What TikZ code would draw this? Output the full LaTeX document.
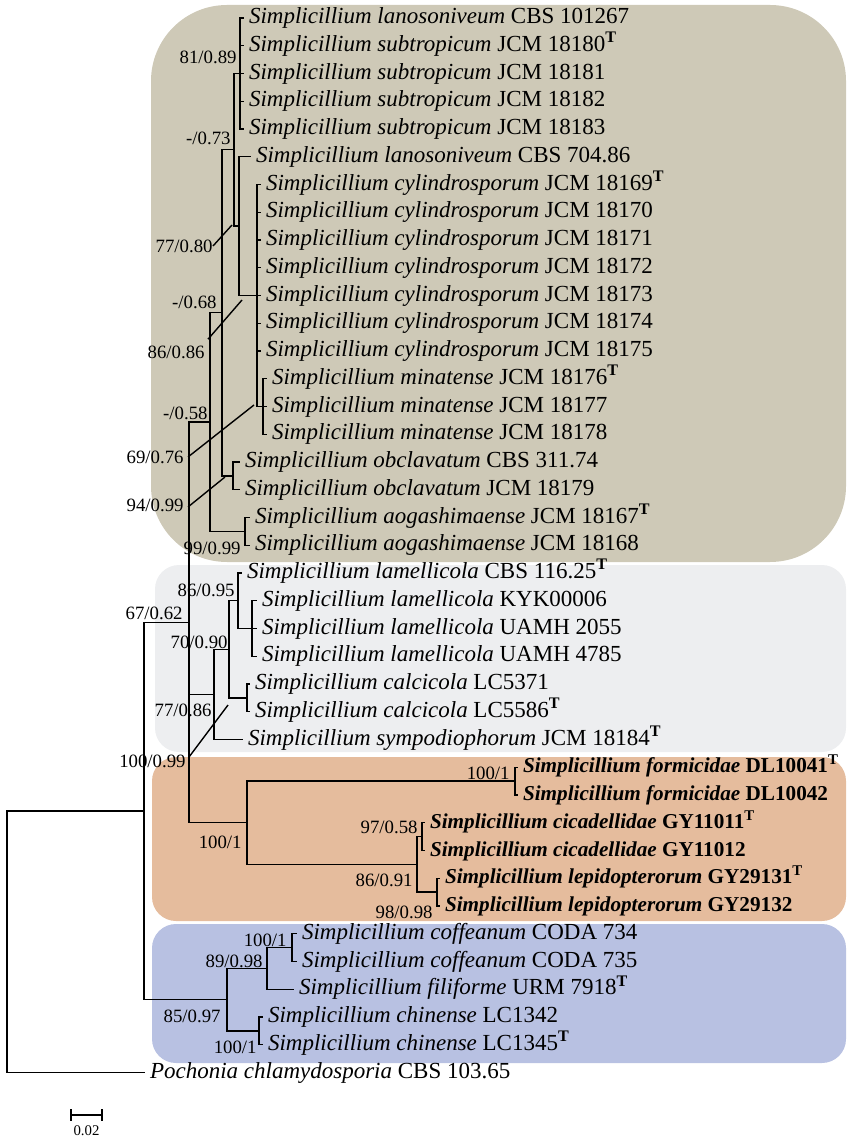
\documentclass[tikz,border=0pt]{standalone}
\usepackage{fontspec}
\setmainfont{Liberation Serif}
\usepackage{tikz}
\usetikzlibrary{positioning}
\usepackage{xcolor}
\definecolor{cladetan}{RGB}{206,201,183}
\definecolor{cladegrey}{RGB}{237,238,240}
\definecolor{cladeorange}{RGB}{229,188,157}
\definecolor{cladeblue}{RGB}{184,193,226}
\newcommand{\sname}[1]{\textit{Simplicillium #1}}
\newcommand{\bname}[1]{\textbf{\textit{Simplicillium #1}}}
\newcommand{\typeT}{\textsuperscript{\textbf{T}}}

\begin{document}
\begin{tikzpicture}[x=0.5pt, y=-0.5pt,
        taxon/.style={anchor=base west, inner sep=0pt, xshift=2.3pt, yshift=-2.8pt,
                      font=\fontsize{11.5}{13}\selectfont},
        newtaxon/.style={taxon, font=\fontsize{10.6}{13}\selectfont\bfseries},
        supp/.style={anchor=east, inner sep=0pt, font=\fontsize{9.4}{11}\selectfont},
        branch/.style={line width=0.7pt, black},
        pointer/.style={line width=0.7pt, black}
    ]
        \useasboundingbox (0,0) rectangle (846,1138);

        \fill[cladetan, rounded corners=38pt] (151,5) rectangle (846,562);
        \fill[cladegrey, rounded corners=12pt] (155,565) rectangle (846,752);
        \fill[cladeorange, rounded corners=12pt] (152,757) rectangle (846,921);
        \fill[cladeblue, rounded corners=12pt] (152,924) rectangle (846,1063);

        \coordinate (e1) at (244,18);      \node[taxon] (t1) at (e1) {\sname{lanosoniveum} CBS 101267};
        \coordinate (e2) at (244,45.75);   \node[taxon] (t2) at (e2) {\sname{subtropicum} JCM 18180\typeT};
        \coordinate (e3) at (244,73.5);    \node[taxon] (t3) at (e3) {\sname{subtropicum} JCM 18181};
        \coordinate (e4) at (244,101.25);  \node[taxon] (t4) at (e4) {\sname{subtropicum} JCM 18182};
        \coordinate (e5) at (244,129);     \node[taxon] (t5) at (e5) {\sname{subtropicum} JCM 18183};
        \coordinate (e6) at (251,156.75);  \node[taxon] (t6) at (e6) {\sname{lanosoniveum} CBS 704.86};
        \coordinate (e7) at (261,184.5);   \node[taxon] (t7) at (e7) {\sname{cylindrosporum} JCM 18169\typeT};
        \coordinate (e8) at (261,212.25);  \node[taxon] (t8) at (e8) {\sname{cylindrosporum} JCM 18170};
        \coordinate (e9) at (261,240);     \node[taxon] (t9) at (e9) {\sname{cylindrosporum} JCM 18171};
        \coordinate (e10) at (261,267.75); \node[taxon] (t10) at (e10) {\sname{cylindrosporum} JCM 18172};
        \coordinate (e11) at (261,295.5);  \node[taxon] (t11) at (e11) {\sname{cylindrosporum} JCM 18173};
        \coordinate (e12) at (261,323.25); \node[taxon] (t12) at (e12) {\sname{cylindrosporum} JCM 18174};
        \coordinate (e13) at (261,351);    \node[taxon] (t13) at (e13) {\sname{cylindrosporum} JCM 18175};
        \coordinate (e14) at (267,378.75); \node[taxon] (t14) at (e14) {\sname{minatense} JCM 18176\typeT};
        \coordinate (e15) at (267,406.5);  \node[taxon] (t15) at (e15) {\sname{minatense} JCM 18177};
        \coordinate (e16) at (267,434.25); \node[taxon] (t16) at (e16) {\sname{minatense} JCM 18178};
        \coordinate (e17) at (240,462);    \node[taxon] (t17) at (e17) {\sname{obclavatum} CBS 311.74};
        \coordinate (e18) at (240,489.75); \node[taxon] (t18) at (e18) {\sname{obclavatum} JCM 18179};
        \coordinate (e19) at (250,517.5);  \node[taxon] (t19) at (e19) {\sname{aogashimaense} JCM 18167\typeT};
        \coordinate (e20) at (250,545.25); \node[taxon] (t20) at (e20) {\sname{aogashimaense} JCM 18168};
        \coordinate (e21) at (242,573);    \node[taxon] (t21) at (e21) {\sname{lamellicola} CBS 116.25\typeT};
        \coordinate (e22) at (257,600.75); \node[taxon] (t22) at (e22) {\sname{lamellicola} KYK00006};
        \coordinate (e23) at (257,628.5);  \node[taxon] (t23) at (e23) {\sname{lamellicola} UAMH 2055};
        \coordinate (e24) at (257,656.25); \node[taxon] (t24) at (e24) {\sname{lamellicola} UAMH 4785};
        \coordinate (e25) at (250,684);    \node[taxon] (t25) at (e25) {\sname{calcicola} LC5371};
        \coordinate (e26) at (250,711.75); \node[taxon] (t26) at (e26) {\sname{calcicola} LC5586\typeT};
        \coordinate (e27) at (243,739.5);  \node[taxon] (t27) at (e27) {\sname{sympodiophorum} JCM 18184\typeT};
        \coordinate (e28) at (518,767.25); \node[newtaxon] (t28) at (e28) {\bname{formicidae} DL10041\typeT};
        \coordinate (e29) at (518,795);    \node[newtaxon] (t29) at (e29) {\bname{formicidae} DL10042};
        \coordinate (e30) at (425,822.75); \node[newtaxon] (t30) at (e30) {\bname{cicadellidae} GY11011\typeT};
        \coordinate (e31) at (425,850.5);  \node[newtaxon] (t31) at (e31) {\bname{cicadellidae} GY11012};
        \coordinate (e32) at (440,878.25); \node[newtaxon] (t32) at (e32) {\bname{lepidopterorum} GY29131\typeT};
        \coordinate (e33) at (440,906);    \node[newtaxon] (t33) at (e33) {\bname{lepidopterorum} GY29132};
        \coordinate (e34) at (297,933.75); \node[taxon] (t34) at (e34) {\sname{coffeanum} CODA 734};
        \coordinate (e35) at (297,961.5);  \node[taxon] (t35) at (e35) {\sname{coffeanum} CODA 735};
        \coordinate (e36) at (294,989.25); \node[taxon] (t36) at (e36) {\sname{filiforme} URM 7918\typeT};
        \coordinate (e37) at (263,1017);   \node[taxon] (t37) at (e37) {\sname{chinense} LC1342};
        \coordinate (e38) at (263,1044.75);\node[taxon] (t38) at (e38) {\sname{chinense} LC1345\typeT};
        \coordinate (e39) at (145,1072.5); \node[taxon] (t39) at (e39) {\textit{Pochonia chlamydosporia} CBS 103.65};

        \coordinate (nA) at (240,73.5);
        \coordinate (nE) at (263,406.5);
        \coordinate (nD) at (257,295.5);
        \coordinate (nC) at (239,226.1);
        \coordinate (nB) at (234,149.8);
        \coordinate (nF) at (233,475.9);
        \coordinate (nG) at (222,312.8);
        \coordinate (nH) at (245,531.4);
        \coordinate (nI) at (210,422.1);
        \coordinate (nJ) at (252,628.5);
        \coordinate (nK) at (238,600.75);
        \coordinate (nL) at (247,697.9);
        \coordinate (nM) at (229,649.3);
        \coordinate (nN) at (214,694.4);
        \coordinate (nO) at (515,781.1);
        \coordinate (nP) at (422,836.6);
        \coordinate (nQ) at (437,892.1);
        \coordinate (nR) at (417,864.4);
        \coordinate (nS) at (247,822.7);
        \coordinate (nT) at (189,622.4);
        \coordinate (nU) at (292,947.6);
        \coordinate (nV) at (267,968.4);
        \coordinate (nW) at (259,1030.9);
        \coordinate (nX) at (227,999.6);
        \coordinate (nY) at (144,811);
        \coordinate (root) at (7,941.8);

        \draw[branch] (nA) |- (e1) (nA) |- (e2) (nA) |- (e3) (nA) |- (e4) (nA) |- (e5);
        \draw[branch] (nE) |- (e14) (nE) |- (e15) (nE) |- (e16);
        \draw[branch] (nD) |- (e7) (nD) |- (e8) (nD) |- (e9) (nD) |- (e10)
                      (nD) |- (e11) (nD) |- (e12) (nD) |- (e13) (nD) |- (nE);
        \draw[branch] (nC) |- (e6) (nC) |- (nD);
        \draw[branch] (nB) |- (nA) (nB) |- (nC);
        \draw[branch] (nF) |- (e17) (nF) |- (e18);
        \draw[branch] (nG) |- (nB) (nG) |- (nF);
        \draw[branch] (nH) |- (e19) (nH) |- (e20);
        \draw[branch] (nI) |- (nG) (nI) |- (nH);
        \draw[branch] (nJ) |- (e22) (nJ) |- (e23) (nJ) |- (e24);
        \draw[branch] (nK) |- (e21) (nK) |- (nJ);
        \draw[branch] (nL) |- (e25) (nL) |- (e26);
        \draw[branch] (nM) |- (nK) (nM) |- (nL);
        \draw[branch] (nN) |- (nM) (nN) |- (e27);
        \draw[branch] (nO) |- (e28) (nO) |- (e29);
        \draw[branch] (nP) |- (e30) (nP) |- (e31);
        \draw[branch] (nQ) |- (e32) (nQ) |- (e33);
        \draw[branch] (nR) |- (nP) (nR) |- (nQ);
        \draw[branch] (nS) |- (nO) (nS) |- (nR);
        \draw[branch] (nT) |- (nI) (nT) |- (nN) (nT) |- (nS);
        \draw[branch] (nU) |- (e34) (nU) |- (e35);
        \draw[branch] (nV) |- (nU) (nV) |- (e36);
        \draw[branch] (nW) |- (e37) (nW) |- (e38);
        \draw[branch] (nX) |- (nV) (nX) |- (nW);
        \draw[branch] (nY) |- (nT) (nY) |- (nX);
        \draw[branch] (root) |- (nY) (root) |- (e39);

        \node[supp] (sA) at (237,57) {81/0.89};
        \node[supp] (sB) at (231,138) {-/0.73};
        \node[supp] (sC) at (213,246) {77/0.80};
        \node[supp] (sG) at (217,302) {-/0.68};
        \node[supp] (sD) at (205,352) {86/0.86};
        \node[supp] (sI) at (208,413) {-/0.58};
        \node[supp] (sE) at (184,457) {69/0.76};
        \node[supp] (sF) at (184,505) {94/0.99};
        \node[supp] (sH) at (241,548) {99/0.99};
        \node[supp] (sK) at (235,590) {86/0.95};
        \node[supp] (sT) at (183,613) {67/0.62};
        \node[supp] (sM) at (228,642) {70/0.90};
        \node[supp] (sN) at (212,710) {77/0.86};
        \node[supp] (sL) at (186,761) {100/0.99};
        \node[supp] (sO) at (510,773) {100/1};
        \node[supp] (sP) at (418,827) {97/0.58};
        \node[supp] (sS) at (242,842) {100/1};
        \node[supp] (sR) at (413,880) {86/0.91};
        \node[supp] (sQ) at (433,912) {98/0.98};
        \node[supp] (sU) at (287,940) {100/1};
        \node[supp] (sV) at (263,961) {89/0.98};
        \node[supp] (sX) at (221,1016) {85/0.97};
        \node[supp] (sW) at (257,1047) {100/1};

        \coordinate (pC) at (232,225);
        \coordinate (pD) at (242,300);
        \coordinate (pE) at (254,405);
        \coordinate (pF) at (225,477);
        \coordinate (pL) at (228,705);
        \draw[pointer] (sC.east) -- (pC);
        \draw[pointer] ([xshift=1.5pt,yshift=3pt]sD.north east) -- (pD);
        \draw[pointer] ([xshift=2pt]sE.east) -- (pE);
        \draw[pointer] ([xshift=2pt,yshift=-1pt]sF.east) -- (pF);
        \draw[pointer] ([xshift=1.5pt,yshift=2pt]sL.east) -- (pL);

        \coordinate (sb1) at (71,1115);
        \coordinate (sb2) at (102,1115);
        \draw[line width=1pt] (sb1) -- (sb2);
        \draw[line width=1pt] ([yshift=3pt]sb1) -- ([yshift=-3pt]sb1);
        \draw[line width=1pt] ([yshift=3pt]sb2) -- ([yshift=-3pt]sb2);
        \node[inner sep=0pt, font=\fontsize{7.4}{9}\selectfont] (sblabel) at (86.5,1131) {0.02};
    \end{tikzpicture}
\end{document}
